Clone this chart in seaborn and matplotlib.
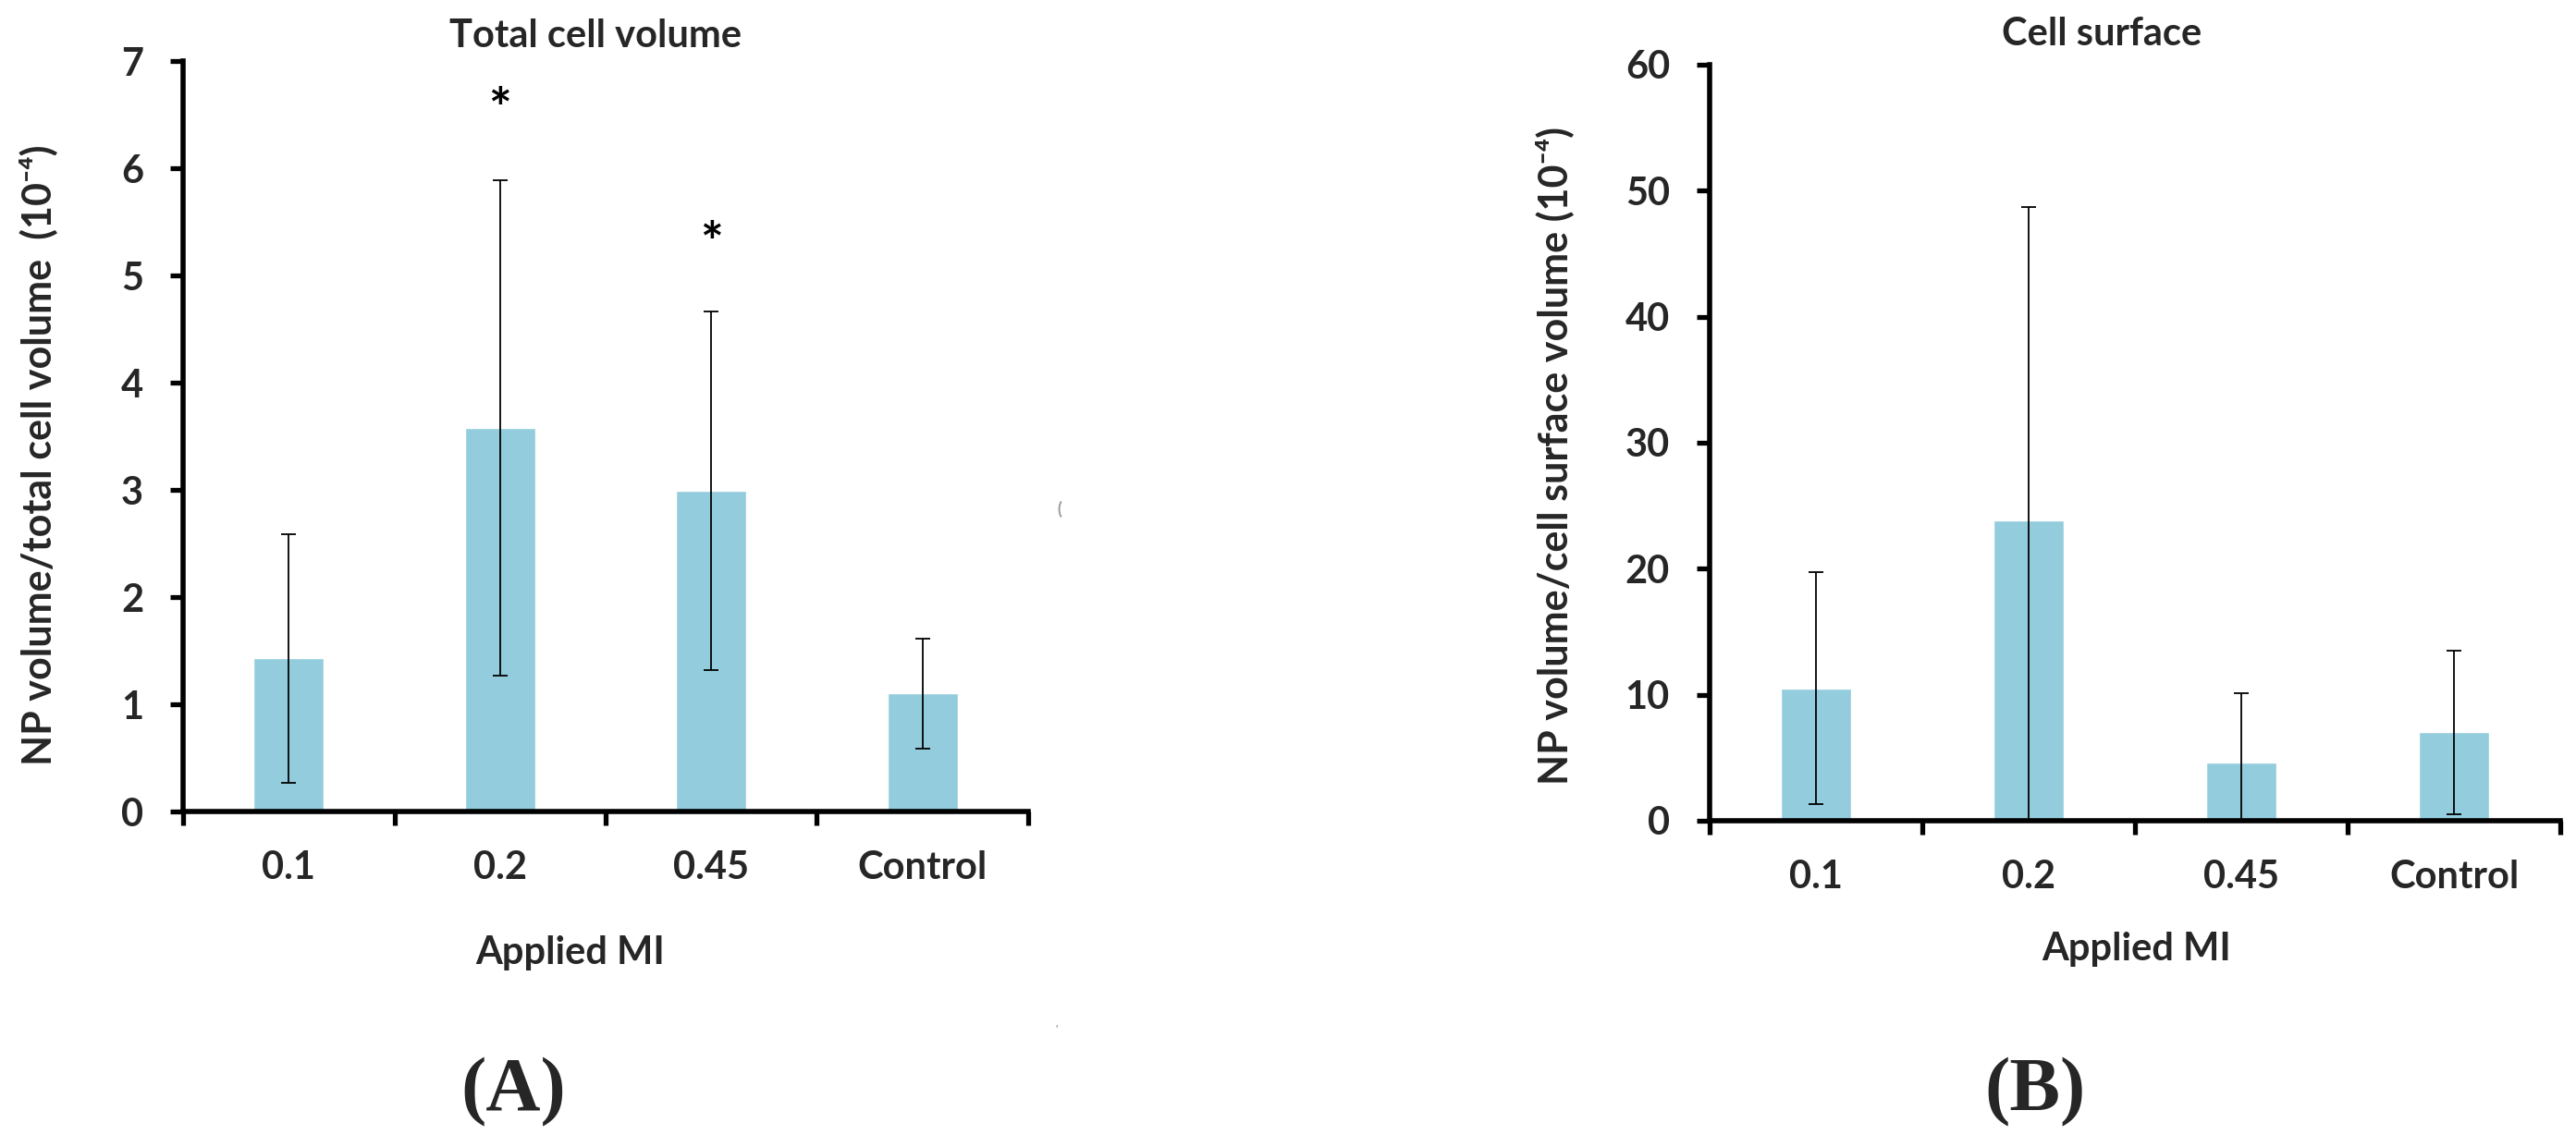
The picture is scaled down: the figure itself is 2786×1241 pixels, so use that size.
import matplotlib
matplotlib.use("Agg")
import matplotlib.pyplot as plt
import seaborn as sns
import pandas as pd
import numpy as np
from matplotlib.ticker import FixedLocator, NullFormatter

# ---- data ----
categories = ["0.1", "0.2", "0.45", "Control"]
total_mean = [1.43, 3.58, 2.99, 1.10]
total_err = [1.16, 2.31, 1.67, 0.51]
total_star = [None, 6.53, 5.28, None]

surface_mean = [10.5, 23.8, 4.64, 7.02]
surface_err = [9.2, 24.9, 5.45, 6.5]

sns.set_theme(style="white")
plt.rcParams['font.family'] = ['Lato', 'DejaVu Sans']
plt.rcParams['font.weight'] = 'bold'

BAR = "#93CDDD"
FS = 30

fig = plt.figure(figsize=(27.86, 12.41), dpi=100)

def panel(rect, means, errs, ylim, yticks, ylabel, title, title_x, title_pad,
          ylab_xy, xlab_xy, stars=None):
    ax = fig.add_axes(rect)
    df = pd.DataFrame({"MI": categories, "val": means})
    sns.barplot(data=df, x="MI", y="val", color=BAR, width=0.333, errorbar=None,
                saturation=1, ax=ax, order=categories)
    ax.errorbar(x=np.arange(len(categories)), y=means, yerr=errs, fmt="none",
                ecolor="black", elinewidth=1.3, capsize=6, capthick=1.3, zorder=3)
    ax.set_xlim(-0.5, len(categories) - 0.5)
    ax.set_ylim(*ylim)
    ax.set_yticks(yticks)
    ax.set_yticklabels([str(t) for t in yticks], fontsize=FS, fontweight="bold")
    # category boundary ticks (major) and labels at centers (minor)
    ax.xaxis.set_major_locator(FixedLocator(np.arange(-0.5, len(categories), 1.0)))
    ax.xaxis.set_major_formatter(NullFormatter())
    ax.xaxis.set_minor_locator(FixedLocator(np.arange(len(categories))))
    ax.set_xticklabels(categories, minor=True, fontsize=FS, fontweight="bold")
    ax.tick_params(axis="x", which="major", direction="out", length=11, width=3.8,
                   color="black", bottom=True)
    ax.tick_params(axis="x", which="minor", length=0, pad=30, bottom=True)
    ax.tick_params(axis="y", which="major", direction="out", length=10, width=3.8,
                   color="black", pad=21, left=True)
    for s in ["top", "right"]:
        ax.spines[s].set_visible(False)
    for s in ["left", "bottom"]:
        ax.spines[s].set_linewidth(4.0)
        ax.spines[s].set_color("black")
    ax.set_xlabel("Applied MI", fontsize=FS, fontweight="bold")
    ax.xaxis.set_label_coords(*xlab_xy)
    ax.set_ylabel(ylabel, fontsize=31, fontweight="bold")
    ax.yaxis.set_label_coords(*ylab_xy)
    ax.set_title(title, fontsize=FS, fontweight="bold", x=title_x, pad=title_pad)
    if stars:
        for i, s in enumerate(stars):
            if s is not None:
                ax.text(i, s, "*", ha="center", va="center", fontsize=42,
                        fontweight="bold", color="black")
    return ax

panel([0.0711, 0.2925, 0.328, 0.6543], total_mean, total_err, (0, 7), list(range(0, 8)),
      "NP volume/total cell volume  (10\u207b\u2074)", "Total cell volume", 0.488, 11,
      (-0.149, 0.475), (0.458, -0.165), stars=total_star)

panel([0.6637, 0.2845, 0.3302, 0.6591], surface_mean, surface_err, (0, 60),
      list(range(0, 61, 10)),
      "NP volume/cell surface volume (10\u207b\u2074)", "Cell surface", 0.461, 15,
      (-0.16, 0.483), (0.502, -0.147))

fig.text(555 / 2786, 1 - 1182 / 1241, "(A)", ha="center", va="center",
         fontsize=59, fontweight="bold", family=["Liberation Serif", "DejaVu Serif"])
fig.text(2201 / 2786, 1 - 1182 / 1241, "(B)", ha="center", va="center",
         fontsize=59, fontweight="bold", family=["Liberation Serif", "DejaVu Serif"])

# faint clipped glyph remnants present in the source image
fig.text(1146 / 2786, 1 - 551 / 1241, "(", ha="center", va="center",
         fontsize=13, color="#999999")
fig.text(1143 / 2786, 1 - 1113 / 1241, "'", ha="center", va="center",
         fontsize=8, color="#999999")

fig.savefig("out.png", dpi=100, facecolor="white")
